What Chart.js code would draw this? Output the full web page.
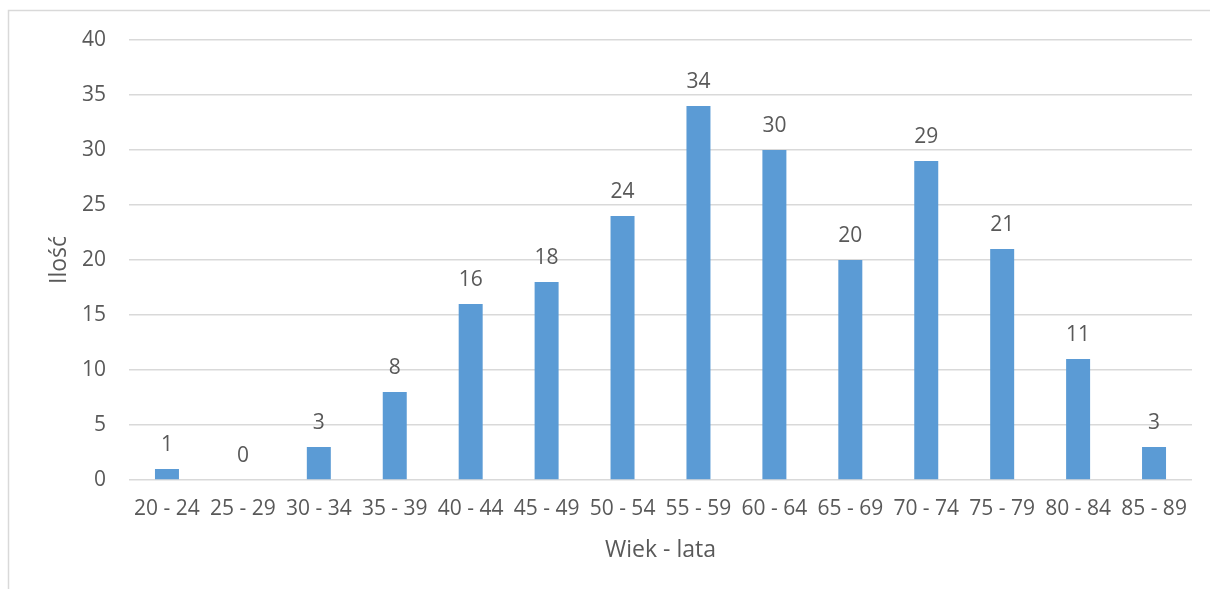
<!DOCTYPE html>
<html>
<head>
<meta charset="utf-8">
<script src="https://cdn.jsdelivr.net/npm/chart.js@4/dist/chart.umd.min.js"></script>
<style>
  html, body { margin: 0; padding: 0; background: #ffffff; }
  #wrap { width: 1210px; height: 589px; position: relative; }
</style>
</head>
<body>
<div id="wrap"><canvas id="c" width="1210" height="589"></canvas></div>
<script>
// Age groups and number of people in each group
const ageGroups = ['20 - 24', '25 - 29', '30 - 34', '35 - 39', '40 - 44', '45 - 49', '50 - 54',
                   '55 - 59', '60 - 64', '65 - 69', '70 - 74', '75 - 79', '80 - 84', '85 - 89'];
const counts = [1, 0, 3, 8, 16, 18, 24, 34, 30, 20, 29, 21, 11, 3];
const yTicks = [0, 5, 10, 15, 20, 25, 30, 35, 40];

const FONT = "'Open Sans', 'DejaVu Sans', sans-serif";
const TEXT = '#595959';
const GRID = '#d9d9d9';
const BAR = '#5b9bd5';

// Light frame around the chart
const framePlugin = {
  id: 'frame',
  beforeDraw(chart) {
    const ctx = chart.ctx;
    ctx.save();
    ctx.strokeStyle = GRID;
    ctx.lineWidth = 1.5;
    ctx.beginPath();
    ctx.moveTo(8.5, chart.height);
    ctx.lineTo(8.5, 10.5);
    ctx.lineTo(chart.width, 10.5);
    ctx.stroke();
    ctx.restore();
  }
};

// Value printed above each bar
const valueLabels = {
  id: 'valueLabels',
  afterDatasetsDraw(chart) {
    const ctx = chart.ctx;
    const meta = chart.getDatasetMeta(0);
    ctx.save();
    ctx.font = '21px ' + FONT;
    ctx.fillStyle = TEXT;
    ctx.textAlign = 'center';
    ctx.textBaseline = 'alphabetic';
    meta.data.forEach((bar, i) => {
      ctx.fillText(String(counts[i]), bar.x, bar.y - 18);
    });
    ctx.restore();
  }
};

new Chart(document.getElementById('c'), {
  type: 'bar',
  data: {
    labels: ageGroups,
    datasets: [{
      data: counts,
      backgroundColor: BAR,
      borderWidth: 0,
      barPercentage: 0.316,
      categoryPercentage: 1.0
    }]
  },
  options: {
    responsive: false,
    animation: false,
    events: [],
    layout: { padding: { left: 38, right: 18, top: 40, bottom: 20 } },
    plugins: { legend: { display: false }, tooltip: { enabled: false } },
    scales: {
      x: {
        grid: { display: false, drawTicks: false },
        border: { display: false },
        ticks: { color: TEXT, font: { family: FONT, size: 21 }, padding: 16, maxRotation: 0, autoSkip: false },
        title: { display: true, text: 'Wiek - lata', color: TEXT, font: { family: FONT, size: 23 }, padding: { top: 0, bottom: 5 } },
        afterFit(scale) { scale.height = 89; }
      },
      y: {
        min: 0,
        max: 40,
        afterBuildTicks(scale) { scale.ticks = yTicks.map(v => ({ value: v })); },
        grid: { color: GRID, lineWidth: 1.5, drawTicks: false },
        border: { display: false },
        ticks: { color: TEXT, font: { family: FONT, size: 21 }, padding: 23 },
        title: { display: true, text: 'Ilość', color: TEXT, font: { family: FONT, size: 23 }, padding: { top: 8, bottom: 0 } },
        afterFit(scale) { scale.width = 91; }
      }
    }
  },
  plugins: [framePlugin, valueLabels]
});
</script>
</body>
</html>
